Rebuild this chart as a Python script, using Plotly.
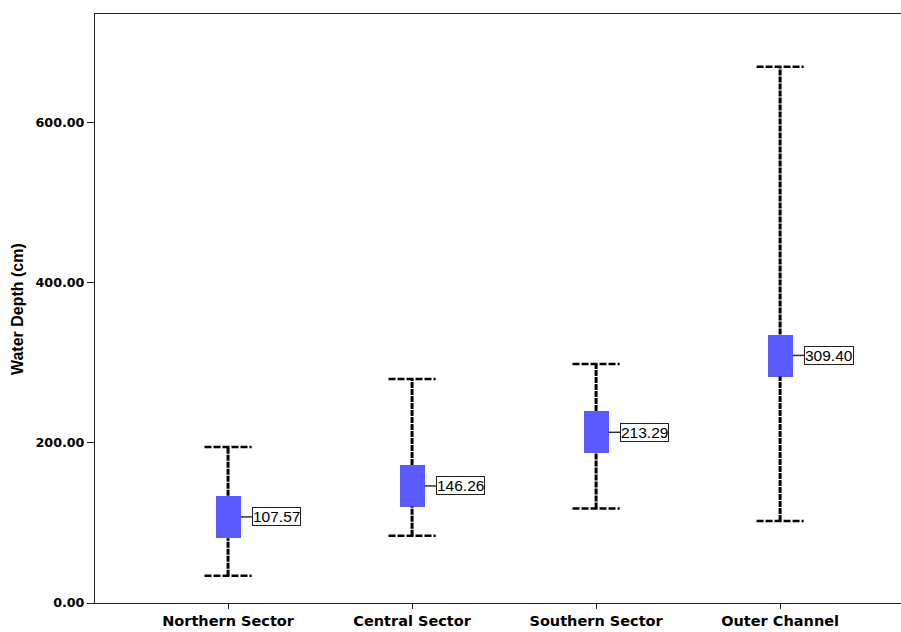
import plotly.graph_objects as go

# ---- data ----
categories = ["Northern Sector", "Central Sector", "Southern Sector", "Outer Channel"]
means = [107.57, 146.26, 213.29, 309.40]
box_low = [81.0, 120.5, 187.0, 283.0]
box_high = [134.0, 172.5, 240.0, 335.5]
whisker_low = [34.0, 84.0, 118.0, 102.5]
whisker_high = [195.0, 280.0, 298.5, 670.0]
y_ticks = [0, 200, 400, 600]

xs = list(range(len(categories)))
box_half = 0.068
cap_half = 0.128
label_off = 0.13

fig = go.Figure()

# whiskers (dashed), split around the box
wx, wy = [], []
for i in xs:
    wx += [i, i, None, i, i, None]
    wy += [whisker_low[i], box_low[i], None, box_high[i], whisker_high[i], None]
fig.add_trace(go.Scatter(x=wx, y=wy, mode="lines",
                         line=dict(color="black", width=3, dash="6px,1px"),
                         hoverinfo="skip", showlegend=False))

# caps
cx, cy = [], []
for i in xs:
    for v in (whisker_low[i], whisker_high[i]):
        cx += [i - cap_half, i + cap_half, None]
        cy += [v, v, None]
fig.add_trace(go.Scatter(x=cx, y=cy, mode="lines",
                         line=dict(color="black", width=2.5, dash="7px,2px"),
                         hoverinfo="skip", showlegend=False))

# boxes
fig.add_trace(go.Bar(x=xs, base=box_low,
                     y=[h - l for h, l in zip(box_high, box_low)],
                     width=2 * box_half,
                     marker=dict(color="#5b5bff", line=dict(width=0)),
                     hoverinfo="skip", showlegend=False))

# connectors from box to labels
lx, ly = [], []
for i in xs:
    lx += [i + box_half, i + label_off, None]
    ly += [means[i], means[i], None]
fig.add_trace(go.Scatter(x=lx, y=ly, mode="lines",
                         line=dict(color="#333333", width=1.5),
                         hoverinfo="skip", showlegend=False))

for i in xs:
    fig.add_annotation(x=i + label_off, y=means[i], text=f"{means[i]:.2f}",
                       xanchor="left", yanchor="middle", showarrow=False,
                       bgcolor="white", bordercolor="#222222", borderwidth=1,
                       borderpad=0,
                       font=dict(family="Liberation Sans, Arial", size=15.5, color="black"))

fig.add_annotation(x=-0.0968, y=0.499, xref="paper", yref="paper",
                   text="Water Depth (cm)", textangle=-90, showarrow=False,
                   xanchor="center", yanchor="middle",
                   font=dict(family="Liberation Sans, Arial", size=16, color="black", weight="bold"))

fig.update_layout(
    width=901, height=632,
    margin=dict(l=95, r=0, t=14, b=29),
    plot_bgcolor="white", paper_bgcolor="white",
    bargap=0,
    xaxis=dict(range=[-0.723, 3.657], tickvals=xs, ticktext=categories,
               showgrid=False, zeroline=False, showline=True, linecolor="#222222",
               linewidth=1, mirror=True, ticks="outside", ticklen=5,
               tickcolor="#222222",
               tickfont=dict(family="DejaVu Sans", size=14.5, color="black", weight="bold")),
    yaxis=dict(range=[0, 736], tickvals=y_ticks, tickformat=".2f",
               showgrid=False, zeroline=False, showline=True, linecolor="#222222",
               linewidth=1, ticks="outside", ticklen=7, tickcolor="#222222",
               tickfont=dict(family="DejaVu Sans", size=12.7, color="black", weight="bold")),
)

fig.write_html(
    "out.html",
    config={"displayModeBar": False},
    post_script="document.body.style.margin='0';document.body.style.overflow='hidden';",
)
